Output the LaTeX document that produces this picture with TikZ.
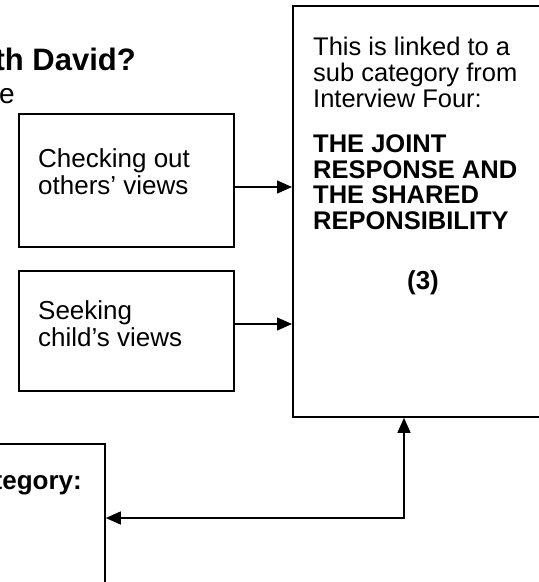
\documentclass[tikz,border=0pt]{standalone}
\usepackage{fontspec}
\setmainfont{Liberation Sans}
\usetikzlibrary{arrows.meta}

\begin{document}
\begin{tikzpicture}[x=1pt, y=-1pt,
  frame/.style={draw, line width=1.8pt, inner sep=0pt, anchor=north west},
  % multi-line texts are placed by the baseline of their last line
  txt/.style={inner sep=0pt, anchor=base west, align=left,
    font=\fontsize{25.5}{25.8}\selectfont},
  boldtxt/.style={txt, font=\fontsize{25.5}{25.5}\selectfont\bfseries},
  boxtxt/.style={txt, font=\fontsize{26}{27}\selectfont},
  link/.style={line width=1.3pt,
    -{Triangle[length=15pt, width=13pt]}},
  twoway/.style={line width=1.3pt,
    {Triangle[length=15pt, width=13pt]}-{Triangle[length=15pt, width=13pt]}}]

  % page area
  \useasboundingbox (0,0) rectangle (539,582);
  \clip (0,0) rectangle (539,582);
  \fill[white] (0,0) rectangle (539,582);

  % heading fragments at the top left
  \node[inner sep=0pt, anchor=base east, font=\fontsize{31}{34}\selectfont\bfseries]
    (head) at (136,70) {th David?};
  \node[inner sep=0pt, anchor=base east, font=\fontsize{28}{32}\selectfont]
    (headb) at (15,103) {e};

  % large sub category box on the right
  \node[frame, minimum width=268pt, minimum height=411pt] (big) at (292,5) {};
  \node[txt] (intro) at (313,107)
    {This is linked to a\\sub category from\\Interview Four:};
  \node[boldtxt] (title) at (313,229)
    {THE JOINT\\RESPONSE AND\\THE SHARED\\REPONSIBILITY};
  \node[inner sep=0pt, anchor=base, font=\fontsize{26}{27}\selectfont\bfseries]
    (num) at (423,289) {(3)};

  % two small boxes on the left
  \node[frame, minimum width=215pt, minimum height=133pt] (check) at (18,113) {};
  \node[boxtxt] (checkt) at (38,194) {Checking out\\others’ views};

  \node[frame, minimum width=215pt, minimum height=120pt] (seek) at (18,270) {};
  \node[boxtxt] (seekt) at (38,346) {Seeking\\child’s views};

  % category box at the bottom left
  \node[frame, minimum width=120pt, minimum height=160pt] (cat) at (-16,443) {};
  \node[inner sep=0pt, anchor=base east, font=\fontsize{26}{27}\selectfont\bfseries]
    (catt) at (82,489) {tegory:};

  % connectors
  \draw[link] (check.east |- 0,187) -- (big.west |- 0,187);
  \draw[link] (seek.east |- 0,324) -- (big.west |- 0,324);
  \coordinate (bend) at (404,518);
  \draw[twoway] (big.south -| bend) -- (bend) -- (cat.east |- bend);
\end{tikzpicture}
\end{document}
